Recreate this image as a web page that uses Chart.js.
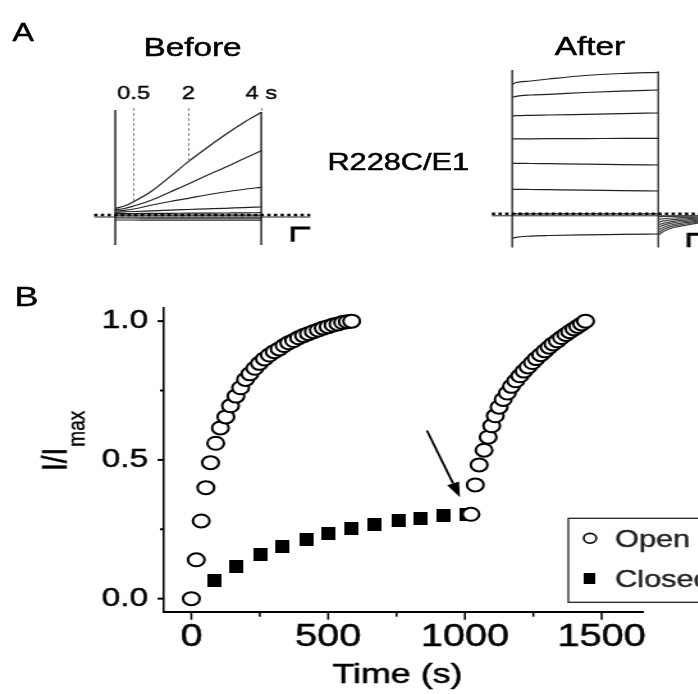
<!DOCTYPE html>
<html>
<head>
<meta charset="utf-8">
<title>R228C/E1</title>
<script src="https://cdn.jsdelivr.net/npm/chart.js@4.4.1/dist/chart.umd.min.js"></script>
<style>
  html, body { margin:0; padding:0; background:#fff; width:698px; height:694px; overflow:hidden; }
  #fig { position:absolute; left:0; top:0; width:640px; height:694px; transform-origin:0 0;
         font-family:"Liberation Sans", Arial, sans-serif; color:#000; }
  #fig canvas { position:absolute; }
  .lbl { position:absolute; white-space:nowrap; line-height:1; -webkit-text-stroke:0.5px #000; }
</style>
</head>
<body>
<div id="fig">
  <div class="lbl" id="lblA">A</div>
  <div class="lbl" id="lblB">B</div>
  <div class="lbl" id="lblBefore">Before</div>
  <div class="lbl" id="lblAfter">After</div>
  <div class="lbl" id="lblConstruct">R228C/E1</div>
  <canvas id="before"></canvas>
  <canvas id="after"></canvas>
  <canvas id="course"></canvas>
</div>
<script>
// The whole figure is drawn with a slight horizontal stretch.
const S = 1.28;
document.getElementById('fig').style.transform = 'scaleX(' + S + ')';
const FONT = '"Liberation Sans", Arial, sans-serif';
Chart.defaults.font.family = FONT;
Chart.defaults.color = '#000';

// ---------- Panel A: voltage-clamp current traces (time in s, current in arbitrary units) ----------
const beforeTimes = [0, 0.25, 0.5, 1, 1.5, 2, 2.5, 3, 3.5, 4];
const before1 = [0.72, 0.95, 1.38, 2.45, 3.88, 5.38, 6.75, 8.05, 9.25, 10.32];
const before2 = [0.58, 0.70, 0.95, 1.55, 2.35, 3.15, 4.00, 4.80, 5.65, 6.48];
const before3 = [0.45, 0.52, 0.65, 1.05, 1.40, 1.72, 2.05, 2.35, 2.60, 2.82];
const before4 = [0.32, 0.36, 0.40, 0.47, 0.54, 0.60, 0.66, 0.72, 0.79, 0.85];
const before5 = [0.18, 0.19, 0.20, 0.21, 0.22, 0.23, 0.24, 0.25, 0.27, 0.28];
const before6 = [0.03, 0.03, 0.03, 0.03, 0.03, 0.03, 0.03, 0.03, 0.03, 0.03];
const before7 = [-0.25, -0.25, -0.25, -0.26, -0.26, -0.26, -0.26, -0.27, -0.27, -0.27];
const before8 = [-0.45, -0.45, -0.45, -0.46, -0.46, -0.46, -0.46, -0.47, -0.47, -0.47];
const beforeEdgeTimes = [0, 4];
const beforeEdgeTop = [10.55, 10.35];
const beforeEdgeBottom = [-2.95, -2.95];
const beforeBarTimes = [5.34, 4.86, 4.86];
const beforeBarValues = [-1.25, -1.25, -2.62];
const markTimes = [0.5, 2, 4];
const markLabels = ['0.5', '2', '4 s'];

const afterTimes = [0, 0.1, 0.5, 1, 2, 3, 4];
const after1 = [13.0, 13.18, 13.33, 13.53, 13.88, 14.08, 14.2];
const after2 = [11.7, 11.8, 11.93, 12.0, 12.18, 12.32, 12.43];
const after3 = [9.83, 9.86, 9.9, 9.93, 10.0, 10.07, 10.13];
const after4 = [7.53, 7.54, 7.55, 7.56, 7.57, 7.59, 7.6];
const after5 = [5.1, 5.1, 5.08, 5.06, 5.02, 4.97, 4.93];
const after6 = [2.5, 2.5, 2.48, 2.46, 2.42, 2.37, 2.33];
const after7 = [0.05, 0.05, 0.05, 0.05, 0.05, 0.05, 0.05];
const after8 = [-2.4, -2.3, -2.18, -2.12, -2.05, -2.0, -1.97];
const tailTimes = [4, 4.15, 4.4, 4.75, 5.1, 5.6];
const tail1 = [-0.24, -0.22, -0.2, -0.18, -0.17, -0.15];
const tail2 = [-0.5, -0.44, -0.37, -0.32, -0.28, -0.25];
const tail3 = [-0.77, -0.66, -0.54, -0.45, -0.38, -0.33];
const tail4 = [-1.04, -0.88, -0.7, -0.58, -0.48, -0.41];
const tail5 = [-1.3, -1.08, -0.86, -0.71, -0.58, -0.49];
const tail6 = [-1.57, -1.3, -1.02, -0.84, -0.68, -0.57];
const tail7 = [-1.84, -1.5, -1.18, -0.97, -0.78, -0.65];
const tail8 = [-2.07, -1.7, -1.34, -1.1, -0.88, -0.73];
const afterEdgeTimes = [0, 4];
const afterEdgeTop = [14.43, 14.26];
const afterEdgeBottom = [-3.3, -3.3];
const afterBarTimes = [5.6, 4.83, 4.83];
const afterBarValues = [-2.0, -2.0, -3.3];

// ---------- Panel B: normalised current vs time ----------
const openTimes = [0, 18, 36, 53, 70, 89, 106, 126, 143, 163, 180, 198, 214, 232, 249, 267, 285,
  303, 321, 339, 356, 374, 392, 410, 428, 446, 464, 482, 500, 518, 536, 553, 570, 586,
  1022, 1038, 1052, 1070, 1085, 1098, 1111, 1125, 1140, 1155, 1170, 1186, 1201, 1216, 1231,
  1247, 1261, 1277, 1293, 1308, 1322, 1338, 1353, 1369, 1383, 1399, 1413, 1427, 1441];
const openValues = [0.0, 0.14, 0.28, 0.40, 0.49, 0.56, 0.615, 0.655, 0.695, 0.73, 0.76, 0.79, 0.81,
  0.83, 0.848, 0.864, 0.878, 0.89, 0.90, 0.912, 0.922, 0.93, 0.94, 0.948, 0.955, 0.962, 0.968,
  0.975, 0.98, 0.986, 0.99, 0.995, 0.998, 1.0,
  0.304, 0.41, 0.482, 0.535, 0.582, 0.623, 0.659, 0.69, 0.718, 0.741, 0.765, 0.785, 0.803, 0.82,
  0.835, 0.851, 0.865, 0.879, 0.893, 0.906, 0.918, 0.929, 0.941, 0.952, 0.962, 0.972, 0.981, 0.99, 1.0];
const closedTimes = [85, 166, 253, 334, 420, 502, 586, 671, 757, 839, 922, 1004];
const closedValues = [0.065, 0.115, 0.158, 0.188, 0.214, 0.236, 0.253, 0.268, 0.28, 0.288, 0.298, 0.304];
const xMajor = [0, 500, 1000, 1500];
const xMinor = [250, 750, 1250];
const yMajor = [0, 0.5, 1.0];
const yMinor = [0.25, 0.75];
const arrowTail = [861, 0.606];
const arrowTip = [982, 0.365];

// ---------- helpers ----------
const pts = (xs, ys) => xs.map((x, i) => ({x, y: ys[i]}));
const trace = (xs, ys, color) => ({data: pts(xs, ys), borderColor: color || '#222', borderWidth: 1.2,
  pointRadius: 0, cubicInterpolationMode: 'monotone', fill: false});
const straight = (xs, ys, opts) => Object.assign({data: pts(xs, ys), borderColor: '#000', borderWidth: 1,
  pointRadius: 0, tension: 0, fill: false}, opts);

function strokedText(ctx, text, x, y, w) {
  ctx.fillText(text, x, y);
  ctx.lineWidth = w || 0.5;
  ctx.strokeStyle = ctx.fillStyle;
  ctx.strokeText(text, x, y);
}

function placeLabel(id, x, baseline, size, center) {
  const el = document.getElementById(id);
  el.style.fontSize = size + 'px';
  el.style.top = (baseline - 0.8465 * size) + 'px';
  el.style.left = (x / S) + 'px';
  if (center) el.style.transform = 'translateX(-50%)';
}
placeLabel('lblA', 12.5, 41, 25, false);
placeLabel('lblB', 14.5, 306.5, 28, false);
placeLabel('lblBefore', 192.5, 56.5, 26, true);
placeLabel('lblAfter', 590, 55, 26, true);
placeLabel('lblConstruct', 398.3, 170, 24, true);

function sizeCanvas(c, L) {
  const w = Math.round(L.sw / S);
  c.width = w; c.height = L.sh;
  Object.assign(c.style, {left: (L.sx / S) + 'px', top: L.sy + 'px', width: w + 'px', height: L.sh + 'px'});
  return w;
}

function tracePanel(id, L, datasets, plugins) {
  const c = document.getElementById(id);
  const w = sizeCanvas(c, L);
  const xMin = (L.sx - L.x0) / L.pxPerSec, xMax = (L.sx + w * S - L.x0) / L.pxPerSec;
  const yMax = (L.y0 - L.sy) / L.pxPerUnit, yMin = (L.y0 - L.sy - L.sh) / L.pxPerUnit;
  return new Chart(c, {
    type: 'line',
    data: {datasets},
    options: {
      responsive: false, animation: false, devicePixelRatio: 1, events: [],
      layout: {padding: 0},
      plugins: {legend: {display: false}, tooltip: {enabled: false}},
      scales: {
        x: {type: 'linear', display: false, min: xMin, max: xMax},
        y: {type: 'linear', display: false, min: yMin, max: yMax}
      }
    },
    plugins: plugins || []
  });
}

// Holding-level record (thin) with the dotted zero-current reference on top of it
function holdingLines(start, end) {
  return [
    straight([start, end], [0.05, 0.05], {borderWidth: 2.6, borderDash: [2.6, 2.6], borderColor: '#000'}),
    straight([start, end], [-0.15, -0.15], {borderWidth: 1, borderColor: '#222'})
  ];
}
function edgeLines(times, top, bottom) {
  return times.map((t, i) => straight([t, t], [top[i], bottom[i]], {borderColor: '#444', borderWidth: 1}));
}

// ---------- Panel A, Before ----------
const beforeLayout = {sx: 88, sy: 78, sw: 232, sh: 172, x0: 115, pxPerSec: 36.5, y0: 215.5, pxPerUnit: 10};
const markGuides = {
  id: 'markGuides',
  afterDatasetsDraw(chart) {
    const {ctx, scales: {x, y}} = chart;
    ctx.save();
    ctx.strokeStyle = '#8a8a8a';
    ctx.lineWidth = 1;
    ctx.setLineDash([3, 2]);
    markTimes.forEach((t) => {
      const px = Math.round(x.getPixelForValue(t)) + 0.5;
      const top = y.getPixelForValue(10.75);
      const bottom = y.getPixelForValue(before1[beforeTimes.indexOf(t)]);
      ctx.beginPath(); ctx.moveTo(px, top); ctx.lineTo(px, bottom); ctx.stroke();
    });
    ctx.setLineDash([]);
    ctx.fillStyle = '#000';
    ctx.font = '18.5px ' + FONT;
    ctx.textAlign = 'center';
    ctx.textBaseline = 'alphabetic';
    markTimes.forEach((t, i) => {
      strokedText(ctx, markLabels[i], x.getPixelForValue(t), 99 - beforeLayout.sy, 0.4);
    });
    ctx.restore();
  }
};
tracePanel('before', beforeLayout, [
  ...holdingLines(-0.58, 5.34),
  trace(beforeTimes, before1), trace(beforeTimes, before2), trace(beforeTimes, before3),
  trace(beforeTimes, before4), trace(beforeTimes, before5), trace(beforeTimes, before6),
  trace(beforeTimes, before7), trace(beforeTimes, before8),
  ...edgeLines(beforeEdgeTimes, beforeEdgeTop, beforeEdgeBottom),
  straight(beforeBarTimes, beforeBarValues, {borderWidth: 3, borderJoinStyle: 'miter', borderCapStyle: 'butt'})
], [markGuides]);

// ---------- Panel A, After ----------
const afterLayout = {sx: 480, sy: 60, sw: 240, sh: 190, x0: 512.3, pxPerSec: 36.5, y0: 214.3, pxPerUnit: 10};
tracePanel('after', afterLayout, [
  ...holdingLines(-0.56, 9),
  trace(afterTimes, after1), trace(afterTimes, after2), trace(afterTimes, after3),
  trace(afterTimes, after4), trace(afterTimes, after5), trace(afterTimes, after6),
  trace(afterTimes, after7), trace(afterTimes, after8),
  trace(tailTimes, tail1, '#444'), trace(tailTimes, tail2, '#444'), trace(tailTimes, tail3, '#444'),
  trace(tailTimes, tail4, '#444'), trace(tailTimes, tail5, '#444'), trace(tailTimes, tail6, '#444'),
  trace(tailTimes, tail7, '#444'), trace(tailTimes, tail8, '#444'),
  ...edgeLines(afterEdgeTimes, afterEdgeTop, afterEdgeBottom),
  straight(afterBarTimes, afterBarValues, {borderWidth: 3, borderJoinStyle: 'miter', borderCapStyle: 'butt'})
]);

// ---------- Panel B ----------
const courseLayout = {sx: 0, sy: 280, sw: 768, sh: 414, left: 164, right: 642.7, top: 301.7, bottom: 611.7};
const courseCanvas = document.getElementById('course');
const courseW = sizeCanvas(courseCanvas, courseLayout);

function blockMark(w, h) {
  const c = document.createElement('canvas');
  c.width = w; c.height = h;
  const g = c.getContext('2d');
  g.fillStyle = '#000';
  g.fillRect(0, 0, w, h);
  return c;
}
const closedMark = blockMark(11, 13);
const closedLegendMark = blockMark(9, 11);

const tickMarks = {
  id: 'tickMarks',
  afterDraw(chart) {
    const {ctx, scales: {x, y}, chartArea: a} = chart;
    ctx.save();
    ctx.strokeStyle = '#000';
    ctx.lineWidth = 2 / S;
    const vtick = (v, len) => { const p = x.getPixelForValue(v); ctx.beginPath(); ctx.moveTo(p, a.bottom); ctx.lineTo(p, a.bottom + len); ctx.stroke(); };
    xMajor.forEach(v => vtick(v, 8));
    xMinor.forEach(v => vtick(v, 5));
    ctx.lineWidth = 2;
    const htick = (v, len) => { const p = y.getPixelForValue(v); ctx.beginPath(); ctx.moveTo(a.left, p); ctx.lineTo(a.left - len, p); ctx.stroke(); };
    yMajor.forEach(v => htick(v, 6.5 / S));
    yMinor.forEach(v => htick(v, 4 / S));
    ctx.restore();
  }
};

const axisTitles = {
  id: 'axisTitles',
  afterDraw(chart) {
    const {ctx} = chart;
    ctx.save();
    ctx.fillStyle = '#000';
    // x-axis title
    ctx.font = '28px ' + FONT;
    ctx.textAlign = 'center';
    ctx.textBaseline = 'alphabetic';
    strokedText(ctx, 'Time (s)', 397.5 / S, 683 - courseLayout.sy);
    // y-axis title with subscript, reading upwards
    ctx.translate(66.5 / S, 471 - courseLayout.sy);
    ctx.rotate(-Math.PI / 2);
    ctx.textAlign = 'left';
    ctx.font = '28px ' + FONT;
    strokedText(ctx, 'I/I', 0, 0);
    const w = ctx.measureText('I/I').width;
    ctx.font = '19px ' + FONT;
    strokedText(ctx, 'max', w + 1, 14.5, 0.4);
    ctx.restore();
  }
};

const arrowMark = {
  id: 'arrowMark',
  afterDraw(chart) {
    const {ctx, scales: {x, y}} = chart;
    const x1 = x.getPixelForValue(arrowTail[0]), y1 = y.getPixelForValue(arrowTail[1]);
    const x2 = x.getPixelForValue(arrowTip[0]), y2 = y.getPixelForValue(arrowTip[1]);
    const ang = Math.atan2(y2 - y1, x2 - x1);
    const head = 15, half = 5;
    const bx = x2 - head * Math.cos(ang), by = y2 - head * Math.sin(ang);
    ctx.save();
    ctx.strokeStyle = '#000'; ctx.fillStyle = '#000'; ctx.lineWidth = 1.8;
    ctx.beginPath(); ctx.moveTo(x1, y1); ctx.lineTo(bx, by); ctx.stroke();
    ctx.beginPath();
    ctx.moveTo(x2, y2);
    ctx.lineTo(bx + half * Math.sin(ang), by - half * Math.cos(ang));
    ctx.lineTo(bx - half * Math.sin(ang), by + half * Math.cos(ang));
    ctx.closePath(); ctx.fill();
    ctx.restore();
  }
};

const legendBox = {
  id: 'legendBox',
  afterDraw(chart) {
    const ctx = chart.ctx;
    const bx = 568.3 / S, by = 518.3 - courseLayout.sy, bw = 150, bh = 84;
    const markX = 590 / S, textX = 615 / S;
    const rows = [20, 60];
    const marks = [
      {pointStyle: 'circle', radius: 4.9, borderWidth: 1.6, fill: '#fff'},
      {pointStyle: closedLegendMark, radius: 6, borderWidth: 0, fill: '#000'}
    ];
    ctx.save();
    ctx.fillStyle = '#fff';
    ctx.fillRect(bx, by, bw, bh);
    ctx.strokeStyle = '#222';
    ctx.lineWidth = 1.3;
    ctx.strokeRect(bx, by, bw, bh);
    chart.data.datasets.forEach((ds, i) => {
      ctx.fillStyle = marks[i].fill;
      ctx.strokeStyle = '#000';
      ctx.lineWidth = marks[i].borderWidth;
      Chart.helpers.drawPoint(ctx, marks[i], markX, by + rows[i]);
    });
    ctx.fillStyle = '#222';
    ctx.font = '24px ' + FONT;
    ctx.textAlign = 'left';
    ctx.textBaseline = 'alphabetic';
    chart.data.datasets.forEach((ds, i) => {
      strokedText(ctx, ds.label, textX, by + rows[i] + 8.4, 0.4);
    });
    ctx.restore();
  }
};

new Chart(courseCanvas, {
  type: 'scatter',
  data: {
    datasets: [
      {label: 'Open', data: pts(openTimes, openValues), pointStyle: 'circle', pointRadius: 6.5,
        pointBorderWidth: 2, pointBackgroundColor: '#fff', pointBorderColor: '#000'},
      {label: 'Closed', data: pts(closedTimes, closedValues), pointStyle: closedMark, pointRadius: 7,
        pointBorderWidth: 0, pointBackgroundColor: '#000', pointBorderColor: '#000'}
    ]
  },
  options: {
    responsive: false, animation: false, devicePixelRatio: 1, events: [],
    layout: {padding: {left: 0, top: courseLayout.top - courseLayout.sy,
      right: courseW - courseLayout.right / S, bottom: 0}},
    plugins: {legend: {display: false}, tooltip: {enabled: false}},
    scales: {
      x: {
        type: 'linear', min: -100, max: 1650,
        afterFit(s) { s.height = courseLayout.sy + courseLayout.sh - courseLayout.bottom; },
        afterBuildTicks(s) { s.ticks = xMajor.map(v => ({value: v})); },
        grid: {display: false, drawTicks: false},
        border: {display: true, color: '#000', width: 2},
        ticks: {padding: 7.2, autoSkip: false, maxRotation: 0, color: '#000',
          textStrokeColor: '#000', textStrokeWidth: 0.5,
          font: {size: 31}, callback: v => String(v)}
      },
      y: {
        type: 'linear', min: -0.047, max: 1.047,
        afterFit(s) { s.width = courseLayout.left / S; },
        afterBuildTicks(s) { s.ticks = yMajor.map(v => ({value: v})); },
        grid: {display: false, drawTicks: false},
        border: {display: true, color: '#000', width: 2 / S},
        ticks: {padding: 12.5, autoSkip: false, color: '#000',
          textStrokeColor: '#000', textStrokeWidth: 0.5,
          font: {size: 26}, callback: v => v.toFixed(1)}
      }
    }
  },
  plugins: [tickMarks, axisTitles, arrowMark, legendBox]
});
</script>
</body>
</html>
